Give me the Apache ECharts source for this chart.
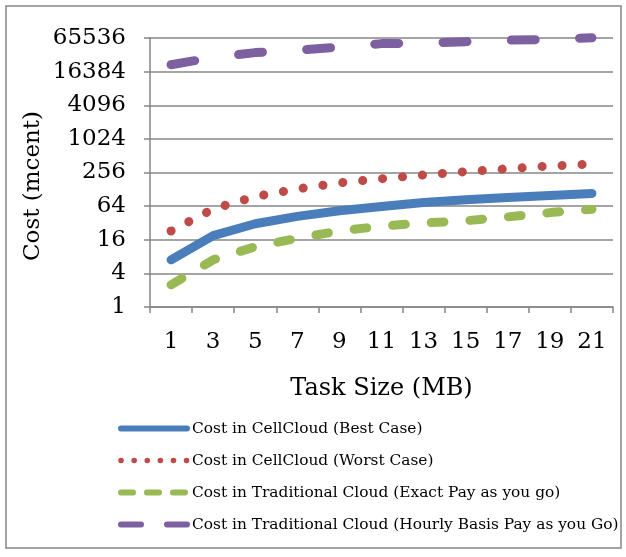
<!DOCTYPE html>
<html><head><meta charset="utf-8">
<script src="https://cdn.jsdelivr.net/npm/echarts@6/dist/echarts.min.js"></script>
<style>html,body{margin:0;padding:0;background:#fff}#c{width:626px;height:557px}</style>
</head><body><div id="c"></div>
<script>
const taskSizes = ['1','3','5','7','9','11','13','15','17','19','21'];
const bestCase  = [7, 19, 31, 42, 53, 63, 74, 83, 91, 99, 108];
const worstCase = [23, 57, 95, 130, 167, 198, 231, 265, 299, 335, 362];
const exactPay  = [2.5, 7, 12, 17, 23, 28, 32, 35, 41, 49, 56];
const hourlyPay = [21800, 29300, 35900, 39600, 45000, 52000, 53200, 56400, 59900, 62000, 66000];
const yTicks = [1, 4, 16, 64, 256, 1024, 4096, 16384, 65536];
const seriesNames = [
  'Cost in CellCloud (Best Case)',
  'Cost in CellCloud (Worst Case)',
  'Cost in Traditional Cloud (Exact Pay as you go)',
  'Cost in Traditional Cloud (Hourly Basis Pay as you Go)'
];
const colors = ['#4A7EBB', '#BE4B48', '#98B954', '#7D60A0'];

const FONT = 'DejaVu Serif';
const GRAY = '#868686';
const chart = echarts.init(document.getElementById('c'), null, {renderer: 'canvas'});

function lineSeries(name, data, color, type) {
  return {
    name, type: 'line', data, symbol: 'none', clip: false, smooth: false,
    lineStyle: {color, width: 9, type, cap: 'round', join: 'round'},
    itemStyle: {color}
  };
}

chart.setOption({
  animation: false,
  backgroundColor: '#fff',
  color: colors,
  grid: {left: 150, right: 13, top: 38, bottom: 250, containLabel: false},
  xAxis: {
    type: 'category', data: taskSizes, boundaryGap: true,
    name: 'Task Size (MB)', nameLocation: 'middle', nameGap: 70,
    nameTextStyle: {fontFamily: FONT, fontSize: 24, color: '#000'},
    axisLine: {lineStyle: {color: GRAY, width: 1.5}},
    axisTick: {show: true, length: 6, lineStyle: {color: GRAY, width: 1.5}},
    axisLabel: {fontFamily: FONT, fontSize: 23, color: '#000', margin: 24, interval: 0},
    splitLine: {show: false}
  },
  yAxis: {
    type: 'log', logBase: 4, min: yTicks[0], max: yTicks[yTicks.length - 1], splitNumber: 8,
    axisLine: {show: true, lineStyle: {color: GRAY, width: 1.5}},
    axisTick: {show: true, length: 6, lineStyle: {color: GRAY, width: 1.5}},
    axisLabel: {fontFamily: FONT, fontSize: 23, color: '#000', margin: 24,
      formatter: v => String(yTicks.reduce((a, b) => Math.abs(b - v) < Math.abs(a - v) ? b : a))},
    splitLine: {show: true, lineStyle: {color: GRAY, width: 1.5}}
  },
  legend: {
    orient: 'vertical', left: 118, top: 421, padding: 0, itemWidth: 66, itemHeight: 12, itemGap: 17,
    textStyle: {fontFamily: FONT, fontSize: 15.4, color: '#000'},
    itemStyle: {opacity: 0},
    data: [
      {name: seriesNames[0], lineStyle: {width: 6, type: 'solid', cap: 'round'}},
      {name: seriesNames[1], lineStyle: {width: 5.5, type: [0.1, 13], cap: 'round'}},
      {name: seriesNames[2], lineStyle: {width: 6, type: [12, 14], cap: 'round'}},
      {name: seriesNames[3], lineStyle: {width: 6, type: [20, 26], cap: 'round'}}
    ]
  },
  graphic: [
    {type: 'rect', shape: {x: 6, y: 6, width: 615, height: 542}, silent: true, z: -1,
     style: {fill: 'none', stroke: GRAY, lineWidth: 1.5}},
    {type: 'text', x: 33, y: 186, rotation: Math.PI / 2,
     style: {text: 'Cost (mcent)', fontFamily: FONT, fontSize: 23, fill: '#000', align: 'center', verticalAlign: 'middle'}}
  ],
  series: [
    lineSeries(seriesNames[0], bestCase, colors[0], 'solid'),
    lineSeries(seriesNames[1], worstCase, colors[1], [0.1, 19.9]),
    lineSeries(seriesNames[2], exactPay, colors[2], [12.7, 26]),
    lineSeries(seriesNames[3], hourlyPay, colors[3], [24, 44.3])
  ]
});
</script></body></html>
